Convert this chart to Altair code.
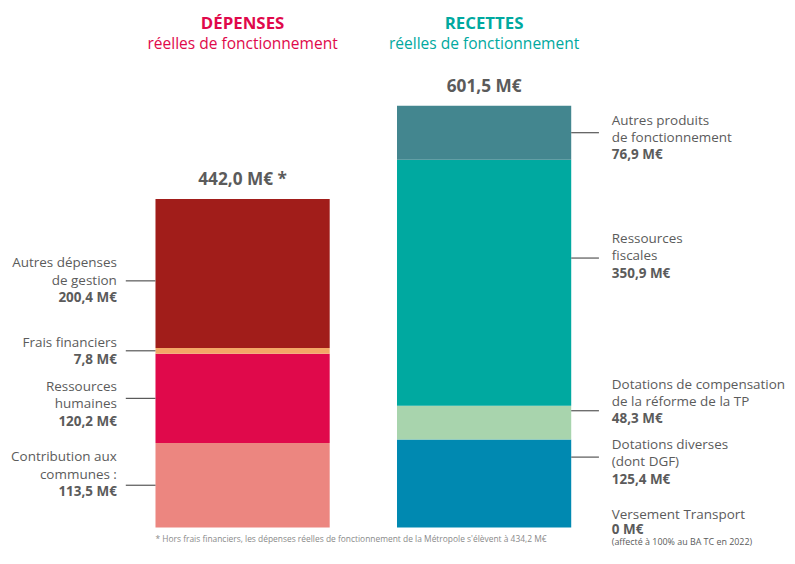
import altair as alt
import pandas as pd

# ---------------- data ----------------
dep_names = ["Contribution aux communes", "Ressources humaines", "Frais financiers", "Autres dépenses de gestion"]
dep_values = [113.5, 120.2, 7.8, 200.4]
dep_label_lines = [["Contribution aux", "communes :"], ["Ressources", "humaines"], ["Frais financiers"], ["Autres dépenses", "de gestion"]]
dep_value_labels = ["113,5 M€", "120,2 M€", "7,8 M€", "200,4 M€"]
dep_total_label = "442,0 M€ *"

rec_names = ["Dotations diverses (dont DGF)", "Dotations de compensation de la réforme de la TP",
             "Ressources fiscales", "Autres produits de fonctionnement"]
rec_values = [125.4, 48.3, 350.9, 76.9]
rec_label_lines = [["Dotations diverses", "(dont DGF)"], ["Dotations de compensation", "de la réforme de la TP"],
                   ["Ressources", "fiscales"], ["Autres produits", "de fonctionnement"]]
rec_value_labels = ["125,4 M€", "48,3 M€", "350,9 M€", "76,9 M€"]
rec_total_label = "601,5 M€"

vt_name = "Versement Transport"
vt_value = 0.0
vt_value_label = "0 M€"
vt_note = "(affecté à 100% au BA TC en 2022)"

headers = ["DÉPENSES", "RECETTES"]
subheaders = ["réelles de fonctionnement", "réelles de fonctionnement"]
footnote = "* Hors frais financiers, les dépenses réelles de fonctionnement de la Métropole s'élèvent à 434,2 M€"

# ---------------- styles ----------------
dep_colors = ["#EC8680", "#E0094B", "#F3A867", "#A11D1A"]
rec_colors = ["#0089B1", "#A8D4AD", "#00A9A0", "#43868F"]
header_colors = ["#E0094B", "#00A9A0"]
# which text line (may be fractional) sits on the leader line, and where the leader meets the segment
dep_anchor_line = [1.6, 0.65, 0.45, 1.0]
dep_anchor_frac = [0.5, 0.5, 0.5, 0.45]
rec_anchor_line = [0.7, 1.5, 1.1, 0.7]
rec_anchor_frac = [0.8, 0.85, 0.6, 0.5]

FONT = "Open Sans"
TXT = "#5b5b5b"
LH = 17.5
LFS = 13.6
W, H = 787, 540
BASE = 522            # pixel row of the zero line
CATS = ["Dépenses", "Recettes"]

xs = alt.Scale(domain=CATS, range=[149, 569], paddingInner=68 / 244, paddingOuter=0)


def X(bp):
    return alt.X("cat:N", scale=xs, axis=None, bandPosition=bp)


def side_layers(cat, names, values, colors, lines, vlabels, anchor_line, anchor_frac,
                total_label, ymax, side, extra_texts=None, note=None):
    ys = alt.Scale(domain=[0, ymax], range=[BASE, 0], nice=False, zero=False)
    Y = lambda f: alt.Y(f, scale=ys, axis=None)

    bars, rules, texts = [], [], []
    start = 0.0
    for i, (n, v) in enumerate(zip(names, values)):
        end = start + v
        bars.append(dict(cat=cat, name=n, start=start, end=end))
        ya = start + anchor_frac[i] * v
        rules.append(dict(cat=cat, y=ya))
        all_lines = lines[i] + [vlabels[i]]
        for j, t in enumerate(all_lines):
            bold = j == len(all_lines) - 1
            texts.append(dict(cat=cat, y=ya, dy=round((j - anchor_line[i]) * LH, 2),
                              weight="bold" if bold else "normal", size=LFS, text=t))
        start = end
    if extra_texts:
        texts += extra_texts
    bars, rules, tdf = pd.DataFrame(bars), pd.DataFrame(rules), pd.DataFrame(texts)
    total = pd.DataFrame([dict(cat=cat, total=start, label=total_label)])

    layers = [alt.Chart(bars).mark_bar(width=alt.RelativeBandSize(1)).encode(
        x=X(0.5), y=Y("start:Q"), y2="end:Q",
        color=alt.Color("name:N", scale=alt.Scale(domain=names, range=colors), legend=None),
    )]

    if side == "left":
        layers.append(alt.Chart(rules).mark_rule(color="#555555", strokeWidth=1.2, xOffset=-30).encode(
            x=X(0), x2=alt.X2("cat:N", bandPosition=0), y=Y("y:Q")))
    else:
        layers.append(alt.Chart(rules).mark_rule(color="#555555", strokeWidth=1.2, x2Offset=28).encode(
            x=X(1), x2=alt.X2("cat:N", bandPosition=1), y=Y("y:Q")))

    edge = 0 if side == "left" else 1
    for dy, weight, size in tdf[["dy", "weight", "size"]].drop_duplicates().itertuples(index=False):
        sub = tdf[(tdf.dy == dy) & (tdf.weight == weight) & (tdf["size"] == size)]
        layers.append(alt.Chart(sub).mark_text(
            align="right" if side == "left" else "left", baseline="middle",
            dx=-39 if side == "left" else 41, dy=float(dy), fontSize=float(size),
            fontWeight=weight, color=TXT, font=FONT,
        ).encode(x=X(edge), y=Y("y:Q"), text="text:N"))

    layers.append(alt.Chart(total).mark_text(
        baseline="bottom", dy=-10, fontSize=17.4, fontWeight="bold", color=TXT, font=FONT
    ).encode(x=X(0.5), y=Y("total:Q"), text="label:N"))

    if note is not None:
        ndf = pd.DataFrame([dict(cat=cat, y=0.0, text=note)])
        layers.append(alt.Chart(ndf).mark_text(
            align="left", baseline="top", dy=8, fontSize=8.5, color="#8a8a8a", font=FONT
        ).encode(x=X(0), y=Y("y:Q"), text="text:N"))
    return layers


vt_texts = [
    dict(cat="Recettes", y=vt_value, dy=-13, weight="normal", size=LFS, text=vt_name),
    dict(cat="Recettes", y=vt_value, dy=3, weight="bold", size=LFS, text=vt_value_label),
    dict(cat="Recettes", y=vt_value, dy=14.5, weight="normal", size=9, text=vt_note),
]

layers = []
layers += side_layers("Dépenses", dep_names, dep_values, dep_colors, dep_label_lines, dep_value_labels,
                      dep_anchor_line, dep_anchor_frac, dep_total_label, 695, "left", note=footnote)
layers += side_layers("Recettes", rec_names, rec_values, rec_colors, rec_label_lines, rec_value_labels,
                      rec_anchor_line, rec_anchor_frac, rec_total_label, 737, "right", extra_texts=vt_texts)

# headers
for cat, h, s, c in zip(CATS, headers, subheaders, header_colors):
    hdf = pd.DataFrame([dict(cat=cat, h=h, s=s)])
    layers.append(alt.Chart(hdf).mark_text(
        baseline="middle", fontSize=17, fontWeight="bold", color=c, font=FONT
    ).encode(x=X(0.5), y=alt.value(13.5), text="h:N"))
    layers.append(alt.Chart(hdf).mark_text(
        baseline="middle", fontSize=15.7, color=c, font=FONT
    ).encode(x=X(0.5), y=alt.value(34), text="s:N"))

chart = alt.layer(*layers).resolve_scale(y="independent", color="independent").properties(
    width=W, height=H,
    padding={"left": 0, "right": 0, "top": 0, "bottom": 0},
    autosize=alt.AutoSizeParams(type="none"),
).configure(font=FONT).configure_view(strokeWidth=0, stroke="transparent")

chart.save("out.html", embed_options={"renderer": "svg", "actions": False})
